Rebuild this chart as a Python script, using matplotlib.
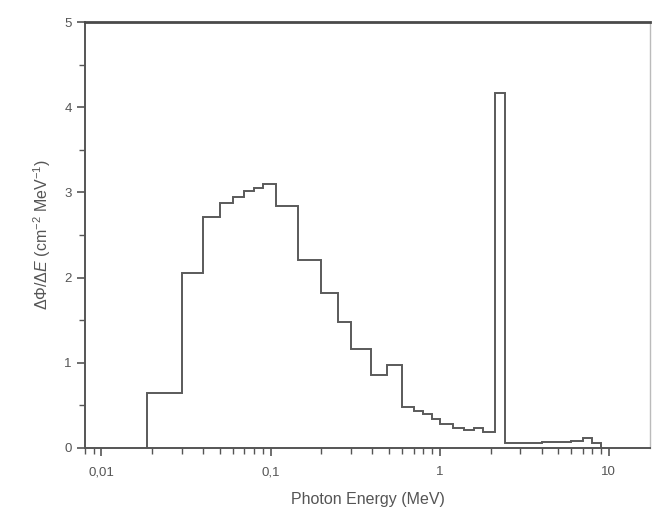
import matplotlib
matplotlib.use("Agg")
import matplotlib.pyplot as plt
from matplotlib.ticker import FixedLocator, LogLocator, NullFormatter, FixedFormatter, MultipleLocator

plt.rcParams['font.family'] = ['Liberation Sans', 'DejaVu Sans']
plt.rcParams['mathtext.fontset'] = 'custom'
plt.rcParams['mathtext.rm'] = 'Liberation Sans'
plt.rcParams['mathtext.it'] = 'Liberation Sans:italic'

# Bin edges (MeV) and flux values
bin_edges = [0.0186, 0.03, 0.04, 0.05, 0.06, 0.07, 0.08, 0.09, 0.108, 0.146, 0.2,
             0.25, 0.3, 0.39, 0.49, 0.6, 0.7, 0.8, 0.9, 1.0, 1.2, 1.4, 1.6, 1.8,
             2.12, 2.43, 3, 4, 5, 6, 7, 8, 9]
flux = [0.65, 2.05, 2.71, 2.87, 2.95, 3.02, 3.05, 3.10,
        2.84, 2.21, 1.82, 1.475, 1.16, 0.857, 0.974,
        0.485, 0.44, 0.40, 0.34, 0.28, 0.24, 0.21, 0.23, 0.19,
        4.17,
        0.06, 0.06, 0.07, 0.07, 0.08, 0.12, 0.06]

x_ticks = [0.01, 0.1, 1, 10]
x_tick_labels = ['0,01', '0,1', '1', '10']
y_ticks = [0, 1, 2, 3, 4, 5]

fig = plt.figure(figsize=(6.52, 5.11), dpi=100)
ax = fig.add_axes([85/652, 1 - 448/511, (650 - 85)/652, (448 - 22)/511])

ax.stairs(flux, bin_edges, baseline=0, color='#5a5a5a', linewidth=1.4)

ax.set_xscale('log')
ax.set_xlim(0.008, 17.5)
ax.set_ylim(0, 5)

ax.xaxis.set_major_locator(FixedLocator(x_ticks))
ax.xaxis.set_major_formatter(FixedFormatter(x_tick_labels))
ax.xaxis.set_minor_locator(LogLocator(base=10, subs=range(2, 10)))
ax.xaxis.set_minor_formatter(NullFormatter())
ax.yaxis.set_major_locator(FixedLocator(y_ticks))
ax.yaxis.set_minor_locator(MultipleLocator(0.5))

txt = '#555555'
ax.tick_params(axis='both', which='major', direction='out', length=6, width=1.2,
               color='#555555', labelcolor=txt, labelsize=9.5)
ax.tick_params(axis='both', which='minor', direction='out', length=4, width=1.0,
               color='#555555')
ax.tick_params(axis='x', pad=7)

for side in ['left', 'bottom']:
    ax.spines[side].set_color('#555555')
    ax.spines[side].set_linewidth(1.4)
ax.spines['top'].set_color('#4a4a4a')
ax.spines['top'].set_linewidth(2.0)
ax.spines['right'].set_color('#bbbbbb')
ax.spines['right'].set_linewidth(1.0)

ax.set_xlabel('Photon Energy (MeV)', fontsize=11.5, color=txt, labelpad=10)
ax.set_ylabel(r'$\Delta\mathit{\Phi}/\Delta\mathit{E}$ (cm$^{-2}$ MeV$^{-1}$)',
              fontsize=11.5, color=txt, labelpad=8)

fig.savefig('out.png', dpi=100)
